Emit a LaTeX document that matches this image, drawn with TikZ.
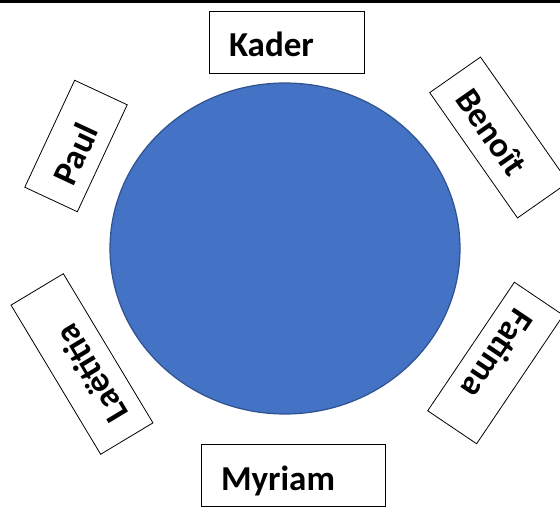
\documentclass[tikz,border=0pt]{standalone}
\usepackage{fontspec}
\setmainfont{Carlito}
\usepackage{xcolor}
\definecolor{tableblue}{HTML}{4472C4}
\definecolor{tableedge}{HTML}{2F528F}
\usepackage{tikz}

\begin{document}
\begin{tikzpicture}[x=1pt, y=1pt,
    seat/.style={draw, line width=0.8pt, fill=white, font=\bfseries\fontsize{35}{42}\selectfont,
        align=left, inner xsep=20pt, inner ysep=0pt, text height=30pt, text depth=0pt, minimum height=62pt}]
        \def\W{560}
        \def\H{507}
        \useasboundingbox (0,0) rectangle (\W,\H);

        % top edge
        \fill (0,\H) rectangle (\W,\H-3.5);

        % table
        \filldraw[fill=tableblue, draw=tableedge, line width=1.2pt] (285,258.5) ellipse [x radius=175, y radius=165.5];

        % seats
        \node[seat, text width=115pt] (kader) at (286.5,465) {Kader};
        \node[seat, text width=144pt] (myriam) at (293,31.5) {Myriam};
        \node[seat, text width=78pt, minimum height=58pt, rotate=65] (paul) at (76,361) {Paul};
        \node[seat, text width=113pt, rotate=-55] (benoit) at (499,369.5) {Benoît};
        \node[seat, text width=134pt, minimum height=61pt, rotate=121] (laetitia) at (82,143) {Laëtitia};
        \node[seat, text width=115pt, minimum height=59pt, rotate=-124] (fatima) at (495.5,144) {Fatima};
\end{tikzpicture}
\end{document}
